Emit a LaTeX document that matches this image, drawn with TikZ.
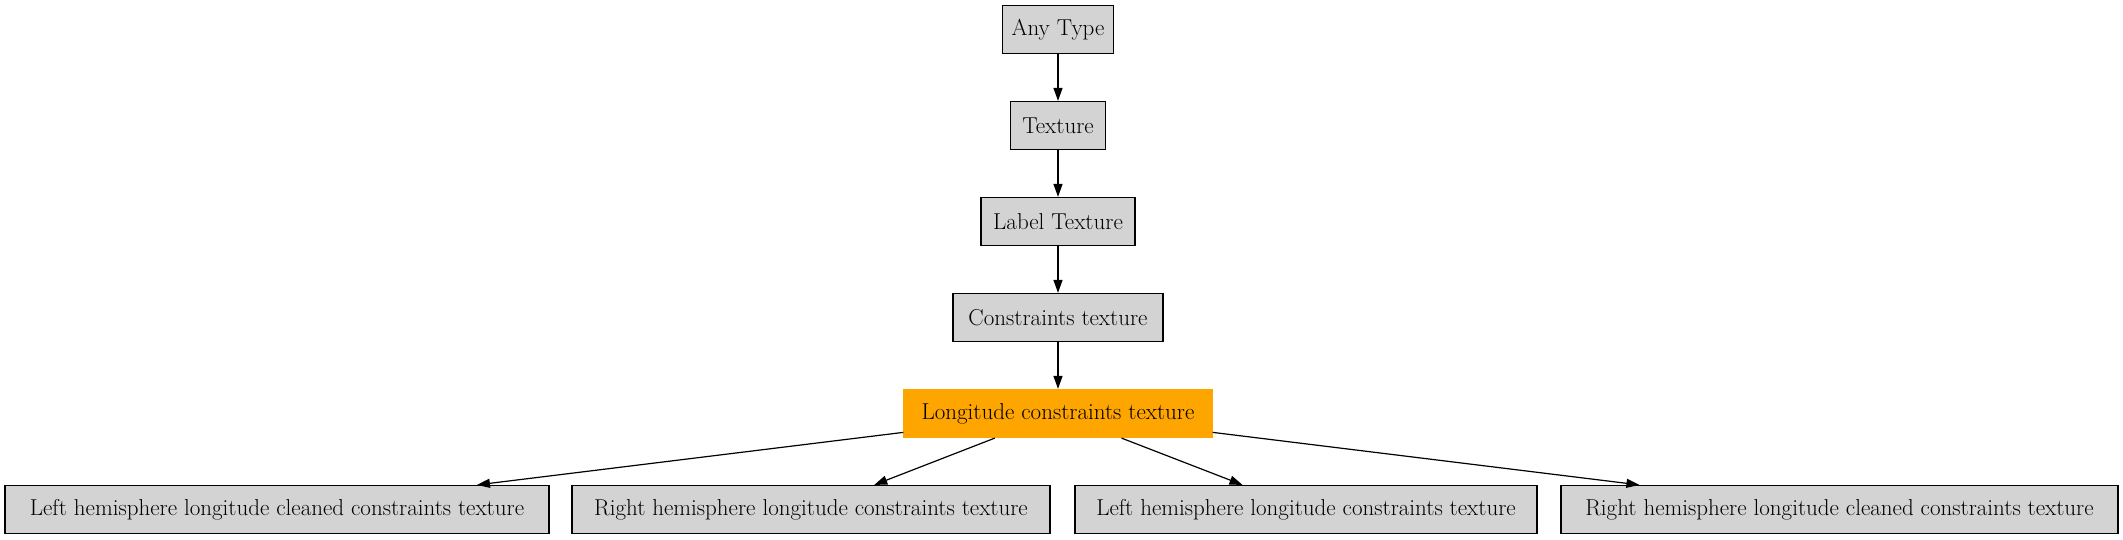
\documentclass[tikz,border=0pt]{standalone}
\usepackage{tikz}
\usetikzlibrary{arrows.meta}
\definecolor{boxgray}{HTML}{D3D3D3}
\definecolor{rootorange}{HTML}{FFA500}
\tikzset{typebox/.style = {draw, fill=boxgray, line width=1.2pt, minimum height=48pt, inner sep=0pt, font=\fontsize{23}{27}\selectfont}}
\tikzset{rootbox/.style = {typebox, draw=rootorange, fill=rootorange}}
\tikzset{edge/.style = {-{Triangle[length=13pt, width=9pt]}, line width=1.2pt}}

\begin{document}
\begin{tikzpicture}[x=1pt, y=-1pt]
\useasboundingbox (0,0) rectangle (2123,539);
\node [typebox, minimum width=111] (any) at (1058,29.5) {Any Type};
\node [typebox, minimum width=95] (tex) at (1058,125.5) {Texture};
\node [typebox, minimum width=154] (lab) at (1058,221.5) {Label Texture};
\node [typebox, minimum width=210] (con) at (1058,317.5) {Constraints texture};
\node [rootbox, minimum width=308] (lon) at (1058,413.5) {Longitude constraints texture};
\node [typebox, minimum width=544] (lhc) at (277,509.5) {Left hemisphere longitude cleaned constraints texture};
\node [typebox, minimum width=478] (rh) at (811,509.5) {Right hemisphere longitude constraints texture};
\node [typebox, minimum width=462] (lh) at (1306,509.5) {Left hemisphere longitude constraints texture};
\node [typebox, minimum width=557] (rhc) at (1839.5,509.5) {Right hemisphere longitude cleaned constraints texture};
\draw [edge] (any) -- (tex);
\draw [edge] (tex) -- (lab);
\draw [edge] (lab) -- (con);
\draw [edge] (con) -- (lon);
\draw [edge] (lon) -- (lhc);
\draw [edge] (lon) -- (rh);
\draw [edge] (lon) -- (lh);
\draw [edge] (lon) -- (rhc);
\end{tikzpicture}
\end{document}
